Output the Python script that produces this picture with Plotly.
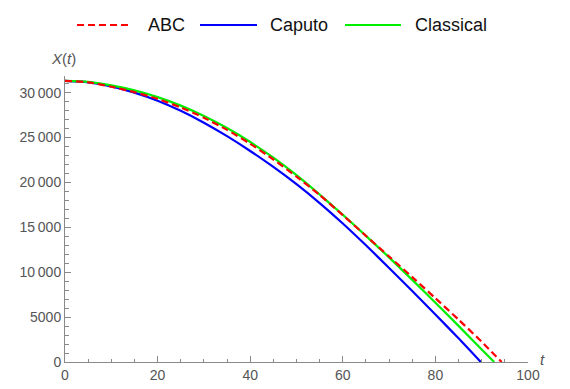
import plotly.graph_objects as go

# ---- data ----
t_abc = [0, 5, 10, 15, 20, 25, 30, 35, 40, 45, 50, 55, 60, 65, 70, 75, 80, 85, 90, 94.3]
x_abc = [31300, 31150, 30650, 30050, 29300, 28350, 27200, 25850, 24300, 22550, 20650,
         18600, 16350, 14050, 11750, 9450, 7100, 4720, 2250, 0]

t_caputo = [0, 5, 10, 15, 20, 25, 30, 35, 40, 45, 50, 55, 60, 65, 70, 75, 80, 85, 89.8]
x_caputo = [31300, 31150, 30700, 30000, 29100, 27975, 26650, 25150, 23500, 21725, 19800,
            17700, 15425, 13000, 10475, 7900, 5290, 2640, 0]

t_classical = [0, 5, 10, 15, 20, 25, 30, 35, 40, 45, 50, 55, 60, 65, 70, 75, 80, 85, 90, 92.7]
x_classical = [31300, 31200, 30800, 30250, 29500, 28550, 27400, 26050, 24500, 22750, 20800,
               18650, 16400, 14050, 11650, 9150, 6600, 4020, 1400, 0]

series_names = ["ABC", "Caputo", "Classical"]
series_colors = ["#ff0000", "#0000ff", "#00ee00"]
series_dash = ["7px,4px", "solid", "solid"]

x_ticks = [0, 20, 40, 60, 80, 100]
y_ticks = [0, 5000, 10000, 15000, 20000, 25000, 30000]
y_ticktext = ["0", "5000", "10\u2009000", "15\u2009000", "20\u2009000", "25\u2009000", "30\u2009000"]

# ---- figure ----
W, H = 570, 389
L, R, T, B = 65, 42, 76, 27

fig = go.Figure()
for name, tt, xx, col, dash in zip(series_names,
                                   [t_abc, t_caputo, t_classical],
                                   [x_abc, x_caputo, x_classical],
                                   series_colors, series_dash):
    fig.add_trace(go.Scatter(x=tt, y=xx, mode="lines", name=name,
                             line=dict(color=col, width=2.2, dash=dash, shape="spline", smoothing=0.6),
                             showlegend=False, hoverinfo="skip"))
# Draw ABC on top (dashed red visible above green)
fig.data = (fig.data[1], fig.data[2], fig.data[0])

axis_col = "#8a8a8a"
tick_font = dict(family="Liberation Sans, Arial, sans-serif", size=14, color="#555555")

fig.update_xaxes(range=[0, 100], tickvals=x_ticks, ticktext=[str(v) for v in x_ticks],
                 showgrid=False, zeroline=False, showline=True, linecolor=axis_col, linewidth=1,
                 ticks="inside", ticklen=6, tickcolor=axis_col, tickfont=tick_font, automargin=False,
                 minor=dict(ticks="inside", ticklen=3.5, dtick=5, tickcolor=axis_col, showgrid=False))
fig.update_yaxes(range=[0, 31850], tickvals=y_ticks, ticktext=y_ticktext,
                 showgrid=False, zeroline=False, showline=True, linecolor=axis_col, linewidth=1,
                 ticks="inside", ticklen=6, tickcolor=axis_col, tickfont=tick_font, automargin=False,
                 minor=dict(ticks="inside", ticklen=3.5, dtick=1000, tickcolor=axis_col, showgrid=False))

pw, ph = W - L - R, H - T - B
def px(x):
    return (x - L) / pw
def py(y):
    return (H - B - y) / ph

shapes = []
annotations = []
legend_items = [(77, 132, 146), (200, 257, 268), (345, 401, 413)]
for (x0, x1, xt), name, col, dash in zip(legend_items, series_names, series_colors, series_dash):
    shapes.append(dict(type="line", xref="paper", yref="paper",
                       x0=px(x0), x1=px(x1), y0=py(25), y1=py(25),
                       line=dict(color=col, width=2.2, dash=dash)))
    annotations.append(dict(text=name, xref="paper", yref="paper", x=px(xt), y=py(25),
                            xanchor="left", yanchor="middle", showarrow=False,
                            font=dict(family="Liberation Sans, Arial, sans-serif", size=18, color="#111111")))

annotations.append(dict(text="<i>X</i>(<i>t</i>)", xref="paper", yref="paper", x=px(63), y=py(58),
                        xanchor="center", yanchor="middle", showarrow=False,
                        font=dict(family="Liberation Sans, Arial, sans-serif", size=15, color="#555555")))
annotations.append(dict(text="<i>t</i>", xref="paper", yref="paper", x=px(542), y=py(359),
                        xanchor="center", yanchor="middle", showarrow=False,
                        font=dict(family="Liberation Sans, Arial, sans-serif", size=15, color="#555555")))

fig.update_layout(width=W, height=H, margin=dict(l=L, r=R, t=T, b=B, autoexpand=False),
                  paper_bgcolor="white", plot_bgcolor="white",
                  shapes=shapes, annotations=annotations, showlegend=False)

fig.write_html("out.html", config={"displayModeBar": False, "responsive": False},
               post_script="document.body.style.margin='0';document.body.style.overflow='hidden';")
